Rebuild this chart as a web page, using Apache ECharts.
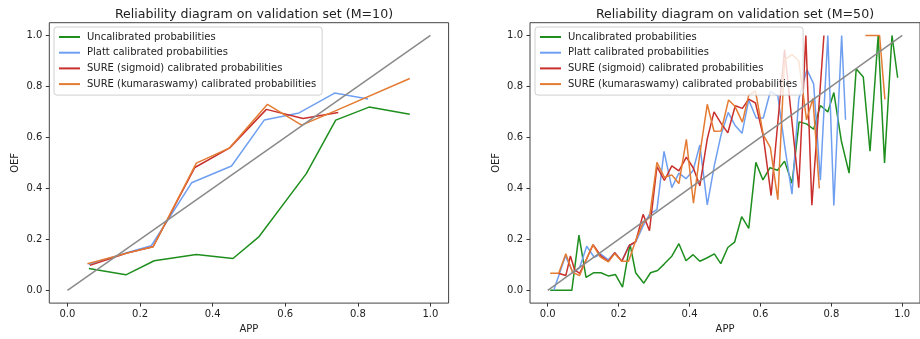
<!DOCTYPE html>
<html>
<head>
<meta charset="utf-8">
<script src="https://cdn.jsdelivr.net/npm/echarts@6/dist/echarts.min.js"></script>
<style>
  html, body { margin: 0; padding: 0; background: #fff; }
  #chart { width: 920px; height: 339px; }
</style>
</head>
<body>
<div id="chart"></div>
<script>
'use strict';
// reliability diagrams, M=10 (left) and M=50 (right)

var seriesNames = [
    'Uncalibrated probabilities',
    'Platt calibrated probabilities',
    'SURE (sigmoid) calibrated probabilities',
    'SURE (kumaraswamy) calibrated probabilities'
];
var tickValues = [0, 0.2, 0.4, 0.6, 0.8, 1.0];
var diagX = [0, 1];
var diagY = [0, 1];

// M=10
var uncal10X = [0.059, 0.161, 0.239, 0.355, 0.456, 0.528, 0.658, 0.739, 0.831, 0.943];
var uncal10Y = [0.086, 0.061, 0.116, 0.141, 0.125, 0.211, 0.458, 0.668, 0.719, 0.691];
var platt10X = [0.059, 0.161, 0.231, 0.342, 0.452, 0.542, 0.638, 0.736, 0.828];
var platt10Y = [0.101, 0.147, 0.175, 0.422, 0.488, 0.668, 0.696, 0.774, 0.751];
var sig10X = [0.062, 0.164, 0.236, 0.351, 0.447, 0.548, 0.649, 0.746];
var sig10Y = [0.098, 0.146, 0.171, 0.482, 0.559, 0.710, 0.674, 0.698];
var kum10X = [0.055, 0.164, 0.236, 0.355, 0.447, 0.551, 0.645, 0.741, 0.943];
var kum10Y = [0.104, 0.146, 0.171, 0.499, 0.559, 0.730, 0.648, 0.706, 0.831];

// M=50
var uncal50X = [0.007, 0.03, 0.05, 0.068, 0.088, 0.108, 0.129, 0.15, 0.172, 0.191, 0.211, 0.232, 0.248,
    0.271, 0.29, 0.31, 0.329, 0.35, 0.37, 0.39, 0.41, 0.429, 0.45, 0.47, 0.488, 0.508, 0.527, 0.547,
    0.567, 0.587, 0.607, 0.627, 0.648, 0.668, 0.689, 0.709, 0.73, 0.75, 0.769, 0.79, 0.807, 0.828,
    0.85, 0.87, 0.89, 0.909, 0.932, 0.95, 0.971, 0.987];
var uncal50Y = [0, 0, 0, 0, 0.217, 0.051, 0.069, 0.069, 0.056, 0.062, 0.013, 0.181, 0.069,
    0.028, 0.069, 0.078, 0.104, 0.134, 0.183, 0.116, 0.14, 0.114, 0.128, 0.143, 0.105, 0.168, 0.189, 0.289,
    0.243, 0.502, 0.433, 0.481, 0.471, 0.507, 0.42, 0.661, 0.653, 0.632, 0.725, 0.7, 0.776, 0.587,
    0.46, 0.869, 0.837, 0.546, 1.0, 0.5, 1.0, 0.834];
var platt50X = [0.017, 0.05, 0.072, 0.09, 0.11, 0.131, 0.15, 0.171, 0.189, 0.209, 0.228, 0.248, 0.269,
    0.288, 0.308, 0.328, 0.35, 0.37, 0.39, 0.41, 0.429, 0.45, 0.47, 0.489, 0.509, 0.528, 0.548, 0.567,
    0.588, 0.608, 0.628, 0.649, 0.668, 0.689, 0.708, 0.731, 0.75, 0.769, 0.79, 0.807, 0.829, 0.84];
var platt50Y = [0, 0.135, 0.067, 0.09, 0.173, 0.13, 0.142, 0.12, 0.148, 0.114, 0.173, 0.189, 0.253,
    0.3, 0.317, 0.545, 0.403, 0.46, 0.438, 0.47, 0.57, 0.335, 0.49, 0.611, 0.698, 0.648, 0.616, 0.747,
    0.676, 0.676, 0.781, 0.763, 0.57, 0.377, 0.75, 0.866, 0.81, 0.432, 1.0, 0.333, 1.0, 0.669];
var sig50X = [0.03, 0.051, 0.064, 0.076, 0.09, 0.108, 0.128, 0.15, 0.171, 0.189, 0.209, 0.23, 0.248,
    0.269, 0.287, 0.308, 0.329, 0.35, 0.37, 0.391, 0.411, 0.429, 0.45, 0.469, 0.489, 0.508, 0.529,
    0.549, 0.567, 0.586, 0.608, 0.63, 0.668, 0.708, 0.728, 0.745, 0.779];
var sig50Y = [0.067, 0.058, 0.135, 0.08, 0.067, 0.118, 0.179, 0.135, 0.114, 0.148, 0.114, 0.176, 0.191,
    0.298, 0.234, 0.485, 0.431, 0.488, 0.469, 0.523, 0.479, 0.41, 0.594, 0.7, 0.655, 0.618, 0.724,
    0.714, 0.75, 0.735, 0.604, 0.372, 0.945, 0.403, 1.0, 0.334, 1.0];
var kum50X = [0.007, 0.031, 0.051, 0.07, 0.09, 0.108, 0.127, 0.148, 0.171, 0.189, 0.209, 0.228, 0.248,
    0.269, 0.287, 0.308, 0.329, 0.35, 0.37, 0.391, 0.411, 0.429, 0.45, 0.469, 0.489, 0.51, 0.528,
    0.549, 0.567, 0.586, 0.608, 0.628, 0.649, 0.668, 0.689, 0.708, 0.73, 0.748, 0.766, 0.83,
    0.896, 0.936, 0.951];
var kum50Y = [0.067, 0.067, 0.144, 0.071, 0.058, 0.118, 0.179, 0.131, 0.112, 0.144, 0.114, 0.114, 0.195,
    0.266, 0.285, 0.502, 0.443, 0.453, 0.419, 0.592, 0.342, 0.534, 0.73, 0.624, 0.625, 0.747, 0.722,
    0.66, 0.766, 0.782, 0.61, 0.56, 0.356, 0.905, 0.925, 0.9, 0.669, 0.753, 0.4, '-',
    1.0, 1.0, 0.749];

var colors = ['#1e8f1e', '#6f9ff0', '#c9302c', '#e47b32'];

function zip(xs, ys) {
    var arr = [];
    for (var i = 0; i < xs.length; i++) {
        arr.push([xs[i], ys[i]]);
    }
    return arr;
}

var echart = echarts.init(document.getElementById('chart'), null, { renderer: 'canvas' });

var textColor = '#222';
var font = 'DejaVu Sans';

function makeXAxis(idx) {
    return {
        gridIndex: idx,
        type: 'value',
        min: -0.05,
        max: 1.05,
        name: 'APP',
        nameLocation: 'middle',
        nameGap: 19,
        nameTextStyle: { color: textColor, fontSize: 10, fontFamily: font },
        axisLine: { show: false, onZero: false },
        axisTick: {
            show: true, length: 3.5, inside: false,
            customValues: tickValues,
            lineStyle: { color: '#333', width: 1 }
        },
        axisLabel: {
            color: textColor, fontSize: 10, fontFamily: font, margin: 6,
            customValues: tickValues,
            formatter: function (v) { return v.toFixed(1); }
        },
        splitLine: { show: false }
    };
}

function makeYAxis(idx) {
    return {
        gridIndex: idx,
        type: 'value',
        min: -0.05,
        max: 1.05,
        name: 'OEF',
        nameLocation: 'middle',
        nameGap: 29,
        nameRotate: 90,
        nameTextStyle: { color: textColor, fontSize: 10, fontFamily: font },
        axisLine: { show: false, onZero: false },
        axisTick: {
            show: true, length: 3.5, inside: false,
            customValues: tickValues,
            lineStyle: { color: '#333', width: 1 }
        },
        axisLabel: {
            color: textColor, fontSize: 10, fontFamily: font, margin: 7,
            customValues: tickValues,
            formatter: function (v) { return v.toFixed(1); }
        },
        splitLine: { show: false }
    };
}

function makeLegend(left) {
    return {
        orient: 'vertical',
        left: left,
        top: 27,
        padding: [4, 6, 5, 5],
        itemGap: 3.7,
        itemWidth: 21,
        itemHeight: 2,
        icon: 'rect',
        backgroundColor: 'rgba(255,255,255,0.8)',
        borderColor: '#d0d0d0',
        borderWidth: 1,
        borderRadius: 3,
        textStyle: { color: textColor, fontSize: 10, fontFamily: font, lineHeight: 12, padding: [0, 0, 0, 2] },
        data: seriesNames
    };
}

function lineSeries(name, color, data, idx) {
    return {
        name: name,
        type: 'line',
        xAxisIndex: idx,
        yAxisIndex: idx,
        showSymbol: false,
        symbol: 'none',
        connectNulls: false,
        lineStyle: { color: color, width: 1.5 },
        itemStyle: { color: color },
        emphasis: { disabled: true },
        data: data
    };
}

var option = {
    animation: false,
    backgroundColor: '#fff',
    title: [{
        text: 'Reliability diagram on validation set (M=10)',
        left: 249, top: 3, textAlign: 'center',
        textStyle: { color: textColor, fontSize: 12.6, fontWeight: 'normal', fontFamily: font }
    }, {
        text: 'Reliability diagram on validation set (M=50)',
        left: 730, top: 3, textAlign: 'center',
        textStyle: { color: textColor, fontSize: 12.6, fontWeight: 'normal', fontFamily: font }
    }],
    legend: [makeLegend(54), makeLegend(535)],
    grid: [{
        left: 49.3, top: 22.7, width: 399.3, height: 285.3,
        show: true, borderColor: '#444', borderWidth: 1, backgroundColor: 'transparent'
    }, {
        left: 530, top: 22.7, width: 399.6, height: 285.3,
        show: true, borderColor: '#444', borderWidth: 1, backgroundColor: 'transparent'
    }],
    xAxis: [makeXAxis(0), makeXAxis(1)],
    yAxis: [makeYAxis(0), makeYAxis(1)],
    series: [
        lineSeries(seriesNames[0], colors[0], zip(uncal10X, uncal10Y), 0),
        lineSeries(seriesNames[1], colors[1], zip(platt10X, platt10Y), 0),
        lineSeries(seriesNames[2], colors[2], zip(sig10X, sig10Y), 0),
        lineSeries(seriesNames[3], colors[3], zip(kum10X, kum10Y), 0),
        lineSeries('diag10', '#8a8a8a', zip(diagX, diagY), 0),
        lineSeries(seriesNames[0], colors[0], zip(uncal50X, uncal50Y), 1),
        lineSeries(seriesNames[1], colors[1], zip(platt50X, platt50Y), 1),
        lineSeries(seriesNames[2], colors[2], zip(sig50X, sig50Y), 1),
        lineSeries(seriesNames[3], colors[3], zip(kum50X, kum50Y), 1),
        lineSeries('diag50', '#8a8a8a', zip(diagX, diagY), 1)
    ]
};

echart.setOption(option);
</script>
</body>
</html>
